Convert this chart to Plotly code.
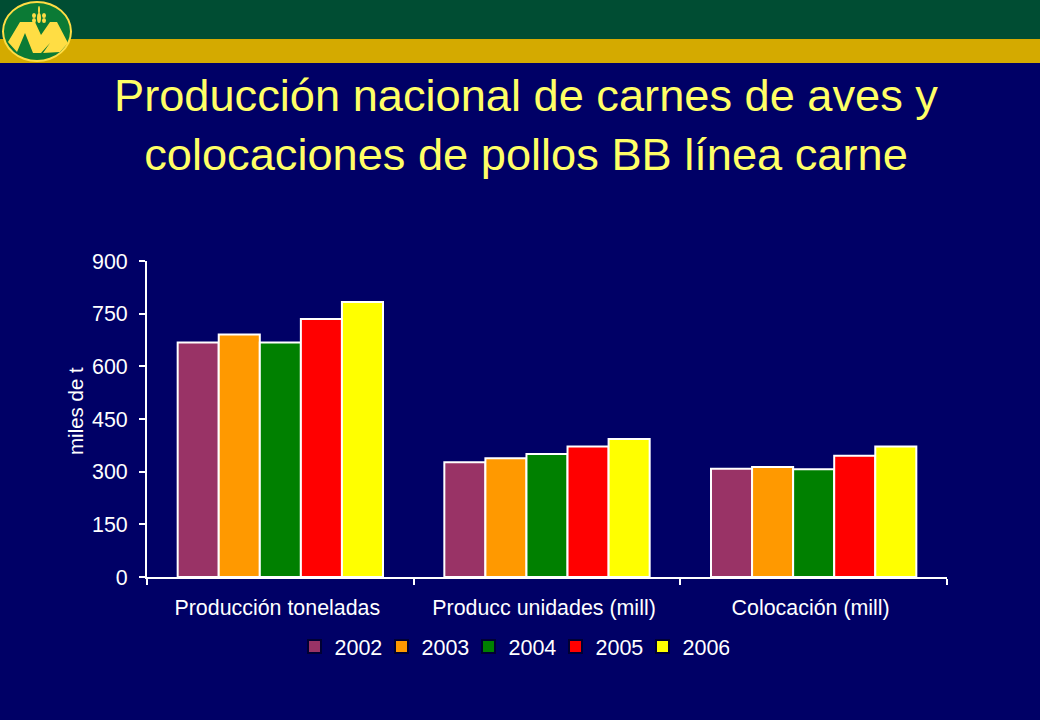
import plotly.graph_objects as go

categories = ["Producción toneladas", "Producc unidades (mill)", "Colocación (mill)"]
years = ["2002", "2003", "2004", "2005", "2006"]
v2002 = [668, 327, 308]
v2003 = [691, 338, 313]
v2004 = [668, 350, 307]
v2005 = [735, 372, 345]
v2006 = [783, 393, 372]
series = [v2002, v2003, v2004, v2005, v2006]
colors = ["#993366", "#FF9900", "#008000", "#FF0000", "#FFFF00"]
tick_vals = [0, 150, 300, 450, 600, 750, 900]

W, H = 1040, 720
L, R, T, B = 147, 947, 261, 577
FONT = "Liberation Sans, Arial, sans-serif"
NAVY = "#000066"

def px(x): return (x - L) / (R - L)
def py(y): return (B - y) / (B - T)

def rect(x0, y0, x1, y1, color):
    return dict(type="rect", xref="paper", yref="paper", x0=px(x0), x1=px(x1), y0=py(y1), y1=py(y0),
                fillcolor=color, line_width=0, layer="below")

def ell(x0, y0, x1, y1, color):
    return dict(type="circle", xref="paper", yref="paper", x0=px(x0), x1=px(x1), y0=py(y1), y1=py(y0),
                fillcolor=color, line_width=0)

def poly(points, color):
    d = "M " + " L ".join(f"{px(a):.5f},{py(b):.5f}" for a, b in points) + " Z"
    return dict(type="path", xref="paper", yref="paper", path=d, fillcolor=color, line_width=0)

LOGO_Y = "#FFDD44"
LOGO_G = "#0B7A35"
shapes = [
    rect(0, 0, W, 39, "#004D33"),
    rect(0, 39, W, 63, "#D4AA00"),
    ell(2, 1, 72, 62, LOGO_Y),
    ell(4, 3, 70, 60, LOGO_G),
    poly([(20, 22), (35, 22), (41, 35), (50, 22), (57, 22), (68, 43), (60, 52), (43, 53),
          (50, 43), (41, 53), (33, 53), (25, 33), (17, 52), (8, 42)], LOGO_Y),
    ell(37, 13, 41, 23, LOGO_Y),
    ell(32, 13, 36, 18, LOGO_Y),
    ell(42, 13, 46, 18, LOGO_Y),
    ell(32, 18, 36, 23, LOGO_Y),
    ell(42, 18, 46, 23, LOGO_Y),
    ell(38, 6, 40, 14, LOGO_Y),
]

fig = go.Figure()
for year, vals, col in zip(years, series, colors):
    fig.add_bar(name=year, x=categories, y=vals, showlegend=False,
                marker=dict(color=col, line=dict(color="white", width=2)))
# legend keys have a dark outline, unlike the white-outlined bars
for year, col in zip(years, colors):
    fig.add_scatter(name=year, x=[categories[0]], y=[None], mode="markers",
                    marker=dict(symbol="square", size=13, color=col, line=dict(color="#000033", width=2)))

fig.update_layout(
    width=W, height=H,
    margin=dict(l=L, r=W - R, t=T, b=H - B),
    paper_bgcolor=NAVY, plot_bgcolor=NAVY,
    font=dict(family=FONT, color="white", size=21),
    barmode="group", bargap=0.23, bargroupgap=0,
    shapes=shapes,
    showlegend=True,
    title=dict(
        text="Producción nacional de carnes de aves y<br>colocaciones de pollos BB línea carne",
        font=dict(family=FONT, size=45.2, color="#FFFF66"),
        x=526 / W, xanchor="center", y=1 - 111 / H, yanchor="middle",
    ),
    legend=dict(
        orientation="h", x=px(512), xanchor="center", y=py(626), yanchor="top",
        font=dict(size=21.5, color="white"), bgcolor="rgba(0,0,0,0)",
        traceorder="normal", itemwidth=30, entrywidth=42, entrywidthmode="pixels",
    ),
    annotations=[dict(
        text="miles de t", xref="paper", yref="paper", x=px(75), y=py(411),
        xanchor="center", yanchor="middle", textangle=-90, showarrow=False,
        font=dict(size=20.5, color="white"),
    )],
    xaxis=dict(
        showgrid=False, showline=True, linecolor="white", linewidth=2,
        ticks="outside", ticklen=6, tickcolor="white", tickwidth=1.5, tickson="boundaries",
        tickfont=dict(size=21.4, color="white"), zeroline=False, ticklabelstandoff=10, ticklabelshift=-3,
    ),
    yaxis=dict(
        range=[0, 900], tickvals=tick_vals, showgrid=False, showline=True, linecolor="white", linewidth=2,
        ticks="outside", ticklen=6, tickcolor="white", tickwidth=1.5,
        tickfont=dict(size=21.4, color="white"), zeroline=False, ticklabelstandoff=7,
    ),
)

fig.write_html("out.html", config={"displayModeBar": False},
               post_script="document.body.style.margin='0';document.body.style.background='#000066';")
